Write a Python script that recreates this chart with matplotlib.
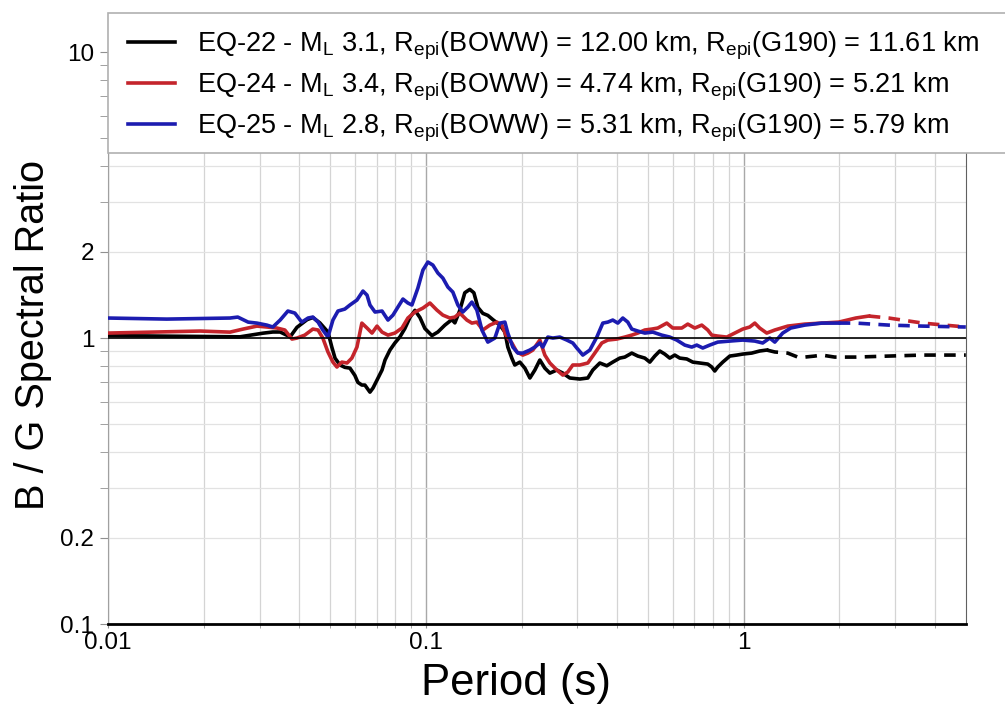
import numpy as np
import matplotlib
matplotlib.use("Agg")
import matplotlib.pyplot as plt
from matplotlib.patches import Rectangle
from matplotlib.ticker import FixedLocator, NullFormatter

plt.rcParams['font.family'] = ['Liberation Sans', 'DejaVu Sans']
plt.rcParams['mathtext.fontset'] = 'custom'
plt.rcParams['mathtext.rm'] = 'Liberation Sans'
plt.rcParams['mathtext.it'] = 'Liberation Sans'

# EQ-22 (black) - solid part, then dashed tail
eq22_T = [0.0100, 0.0260, 0.0307, 0.0330, 0.0348, 0.0374, 0.0393, 0.0423, 0.0441, 0.0464,
          0.0481, 0.0492, 0.0506, 0.0518, 0.0537, 0.0556, 0.0577, 0.0598, 0.0611, 0.0629,
          0.0643, 0.0667, 0.0682, 0.0702, 0.0728, 0.0744, 0.0771, 0.0799, 0.0829, 0.0859,
          0.0891, 0.0924, 0.0958, 0.0993, 0.1045, 0.1091, 0.1148, 0.1207, 0.1234, 0.1279,
          0.1326, 0.1375, 0.1416, 0.1458, 0.1511, 0.1567, 0.1625, 0.1710, 0.1773, 0.1811,
          0.1865, 0.1905, 0.1976, 0.2049, 0.2125, 0.2203, 0.2284, 0.2368, 0.2456, 0.2583,
          0.2698, 0.2838, 0.3051, 0.3233, 0.3352, 0.3527, 0.3710, 0.3874, 0.4075, 0.4227,
          0.4446, 0.4645, 0.4886, 0.5066, 0.5252, 0.5445, 0.5646, 0.5854, 0.6070, 0.6295,
          0.6622, 0.6916, 0.7276, 0.7709, 0.7936, 0.8111, 0.8289, 0.8596, 0.9043, 0.9512,
          0.9933, 1.060, 1.123, 1.182]
eq22_R = [1.02, 1.01, 1.04, 1.05, 1.05, 1.01, 1.09, 1.16, 1.18, 1.13,
          1.08, 1.05, 0.93, 0.85, 0.805, 0.79, 0.785, 0.74, 0.70, 0.685,
          0.685, 0.647, 0.669, 0.713, 0.773, 0.838, 0.908, 0.961, 1.01, 1.08,
          1.18, 1.25, 1.18, 1.08, 1.02, 1.05, 1.11, 1.16, 1.13, 1.25,
          1.44, 1.48, 1.44, 1.28, 1.22, 1.20, 1.16, 1.11, 1.05, 0.93,
          0.85, 0.805, 0.824, 0.785, 0.725, 0.773, 0.838, 0.785, 0.754, 0.773,
          0.754, 0.725, 0.719, 0.725, 0.773, 0.818, 0.80, 0.824, 0.851, 0.858,
          0.886, 0.865, 0.851, 0.824, 0.865, 0.901, 0.879, 0.851, 0.872, 0.851,
          0.845, 0.824, 0.818, 0.811, 0.792, 0.767, 0.792, 0.824, 0.865, 0.872,
          0.879, 0.886, 0.901, 0.908]
eq22_T_tail = [1.182, 1.253, 1.376, 1.480, 1.557, 1.673, 1.760, 1.934, 2.253, 2.860, 3.659, 5.0]
eq22_R_tail = [0.908, 0.894, 0.886, 0.858, 0.858, 0.865, 0.872, 0.858, 0.858, 0.865, 0.872, 0.872]

# EQ-24 (red)
eq24_T = [0.0100, 0.0195, 0.0242, 0.0266, 0.0294, 0.0316, 0.0340, 0.0360, 0.0379, 0.0393,
          0.0416, 0.0441, 0.0458, 0.0474, 0.0492, 0.0510, 0.0525, 0.0544, 0.0565, 0.0585,
          0.0607, 0.0629, 0.0653, 0.0677, 0.0702, 0.0728, 0.0760, 0.0799, 0.0841, 0.0878,
          0.0924, 0.0979, 0.1030, 0.1083, 0.1131, 0.1190, 0.1234, 0.1279, 0.1346, 0.1396,
          0.1447, 0.1511, 0.1590, 0.1673, 0.1734, 0.1798, 0.1865, 0.1933, 0.2019, 0.2094,
          0.2171, 0.2284, 0.2368, 0.2456, 0.2583, 0.2698, 0.2797, 0.2900, 0.3051, 0.3233,
          0.3401, 0.3578, 0.3737, 0.3988, 0.4227, 0.4446, 0.4645, 0.4886, 0.5140, 0.5368,
          0.5729, 0.5983, 0.6386, 0.6670, 0.7017, 0.7382, 0.7709, 0.7936, 0.8289, 0.8849,
          0.9376, 0.9933, 1.045, 1.084, 1.123, 1.182, 1.253, 1.376, 1.557, 1.760,
          1.991, 2.253, 2.475]
eq24_R = [1.041, 1.058, 1.049, 1.075, 1.101, 1.093, 1.084, 1.067, 0.992, 1.0,
          1.024, 1.075, 1.067, 1.0, 0.894, 0.824, 0.792, 0.824, 0.818, 0.851,
          0.930, 1.128, 1.084, 1.041, 1.101, 1.049, 1.024, 1.041, 1.084, 1.175,
          1.233, 1.273, 1.326, 1.253, 1.203, 1.175, 1.184, 1.223, 1.156, 1.128,
          1.137, 1.067, 1.110, 1.137, 1.110, 1.008, 0.961, 0.894, 0.872, 0.886,
          0.908, 0.984, 0.872, 0.818, 0.773, 0.742, 0.761, 0.805, 0.805, 0.818,
          0.886, 0.961, 0.984, 0.992, 1.008, 1.024, 1.041, 1.067, 1.075, 1.084,
          1.128, 1.084, 1.084, 1.119, 1.084, 1.110, 1.067, 1.024, 1.016, 1.008,
          1.041, 1.075, 1.093, 1.128, 1.084, 1.041, 1.067, 1.101, 1.119, 1.128,
          1.137, 1.175, 1.194]
eq24_T_tail = [2.475, 2.860, 3.659, 5.0]
eq24_R_tail = [1.194, 1.175, 1.128, 1.093]

# EQ-25 (blue)
eq25_T = [0.0100, 0.0153, 0.0242, 0.0256, 0.0276, 0.0294, 0.0316, 0.0330, 0.0348, 0.0368,
          0.0387, 0.0407, 0.0426, 0.0441, 0.0458, 0.0474, 0.0492, 0.0510, 0.0529, 0.0556,
          0.0577, 0.0607, 0.0634, 0.0653, 0.0667, 0.0692, 0.0728, 0.0760, 0.0788, 0.0817,
          0.0847, 0.0878, 0.0904, 0.0944, 0.0979, 0.1015, 0.1052, 0.1091, 0.1131, 0.1173,
          0.1216, 0.1261, 0.1307, 0.1356, 0.1396, 0.1447, 0.1501, 0.1567, 0.1649, 0.1710,
          0.1773, 0.1811, 0.1878, 0.1948, 0.2019, 0.2125, 0.2203, 0.2284, 0.2334, 0.2420,
          0.2510, 0.2640, 0.2777, 0.2900, 0.2985, 0.3118, 0.3281, 0.3451, 0.3604, 0.3737,
          0.3874, 0.4018, 0.4166, 0.4319, 0.4446, 0.4645, 0.4886, 0.5176, 0.5525, 0.5854,
          0.6159, 0.6527, 0.6866, 0.7119, 0.7436, 0.7822, 0.8289, 0.9043, 0.9933, 1.084,
          1.148, 1.208, 1.253, 1.327, 1.406, 1.557, 1.760, 1.991]
eq25_R = [1.175, 1.165, 1.175, 1.184, 1.137, 1.128, 1.110, 1.093, 1.156, 1.243,
          1.223, 1.137, 1.175, 1.184, 1.137, 1.067, 1.008, 1.156, 1.243, 1.263,
          1.305, 1.358, 1.460, 1.413, 1.305, 1.233, 1.243, 1.156, 1.203, 1.284,
          1.369, 1.326, 1.305, 1.496, 1.729, 1.844, 1.800, 1.688, 1.621, 1.508,
          1.448, 1.305, 1.233, 1.284, 1.336, 1.253, 1.067, 0.968, 1.0, 1.128,
          1.137, 1.041, 0.930, 0.886, 0.886, 0.908, 0.930, 0.961, 0.930, 1.008,
          1.0, 1.008, 0.984, 0.961, 0.923, 0.872, 0.908, 1.008, 1.128, 1.137,
          1.156, 1.128, 1.175, 1.137, 1.075, 1.058, 1.041, 1.049, 1.024, 1.008,
          0.984, 0.945, 0.930, 0.945, 0.923, 0.945, 0.968, 0.976, 0.984, 0.976,
          0.961, 1.0, 0.968, 1.041, 1.084, 1.110, 1.128, 1.128]
eq25_T_tail = [1.991, 2.253, 2.860, 3.659, 5.0]
eq25_R_tail = [1.128, 1.128, 1.110, 1.101, 1.093]

labels = [
    r'EQ-22 - M$_\mathrm{L}$ 3.1, R$_\mathrm{epi}$(BOWW) = 12.00 km, R$_\mathrm{epi}$(G190) = 11.61 km',
    r'EQ-24 - M$_\mathrm{L}$ 3.4, R$_\mathrm{epi}$(BOWW) = 4.74 km, R$_\mathrm{epi}$(G190) = 5.21 km',
    r'EQ-25 - M$_\mathrm{L}$ 2.8, R$_\mathrm{epi}$(BOWW) = 5.31 km, R$_\mathrm{epi}$(G190) = 5.79 km',
]
colors = ['black', '#c4242b', '#1c1cb0']

fig = plt.figure(figsize=(10.05, 7.22), dpi=100)
ax = fig.add_axes([0.1075, 0.1357, 0.8535, 0.8463])
ax.set_xscale('log')
ax.set_yscale('log')
ax.set_xlim(0.01, 5)
ax.set_ylim(0.1, 13.7)

series = [(eq22_T, eq22_R, eq22_T_tail, eq22_R_tail),
          (eq24_T, eq24_R, eq24_T_tail, eq24_R_tail),
          (eq25_T, eq25_R, eq25_T_tail, eq25_R_tail)]
for (t, r, tt, rt), c, lab in zip(series, colors, labels):
    ax.plot(t, r, color=c, lw=2.6, label=lab, zorder=3)
    ax.plot(tt, rt, color=c, lw=2.6, ls=(0, (3.2, 2.3)), zorder=3)

ax.axhline(1.0, color='black', lw=1.2, zorder=4)

# ticks and grid
ax.xaxis.set_major_locator(FixedLocator([0.01, 0.1, 1]))
ax.set_xticklabels(['0.01', '0.1', '1'])
xminor = [m * d for d in (0.01, 0.1, 1) for m in range(2, 10) if m * d < 5]
ax.xaxis.set_minor_locator(FixedLocator(xminor))
ax.xaxis.set_minor_formatter(NullFormatter())
ax.yaxis.set_major_locator(FixedLocator([0.1, 0.2, 1, 2, 10]))
ax.set_yticklabels(['0.1', '0.2', '1', '2', '10'])
yminor = [m * d for d in (0.1, 1) for m in range(3, 10)]
ax.yaxis.set_minor_locator(FixedLocator(yminor))
ax.yaxis.set_minor_formatter(NullFormatter())

ax.grid(True, axis='x', which='major', color='#a8a8a8', lw=1.0)
ax.grid(True, axis='x', which='minor', color='#d4d4d4', lw=0.9)
ax.grid(True, axis='y', which='both', color='#e2e2e2', lw=0.9)
ax.set_axisbelow(True)

ax.tick_params(axis='both', which='both', colors='#909090', labelcolor='black', labelsize=17.5)
ax.tick_params(axis='y', which='both', length=6, pad=4)
ax.tick_params(axis='x', which='both', length=3, pad=3)

ax.spines['top'].set_visible(False)
ax.spines['left'].set_color('#a0a0a0')
ax.spines['right'].set_color('#606060')
ax.spines['bottom'].set_color('black')
ax.spines['bottom'].set_linewidth(2)

ax.set_xlabel('Period (s)', fontsize=31.5, va='top')
ax.xaxis.set_label_coords(0.476, -0.063)
ax.set_ylabel('B / G Spectral Ratio', fontsize=28.5)
ax.yaxis.set_label_coords(-0.065, 0.473)

# legend box reaching past the right edge of the figure
box = Rectangle((108 / 1005, 1 - 153 / 722), 0.95, 140 / 722, transform=fig.transFigure,
                facecolor='white', edgecolor='#b0b0b0', lw=1.2, zorder=5, clip_on=False)
fig.patches.append(box)
leg = fig.legend(loc='upper left', bbox_to_anchor=(117 / 1005, 1 - 19 / 722), frameon=False,
                 fontsize=19.5, handlelength=1.75, handletextpad=0.8, labelspacing=0.31,
                 borderaxespad=0, borderpad=0.4)
for h in leg.get_lines():
    h.set_linewidth(2.6)
leg.set_zorder(6)

fig.savefig('out.png', dpi=100)
